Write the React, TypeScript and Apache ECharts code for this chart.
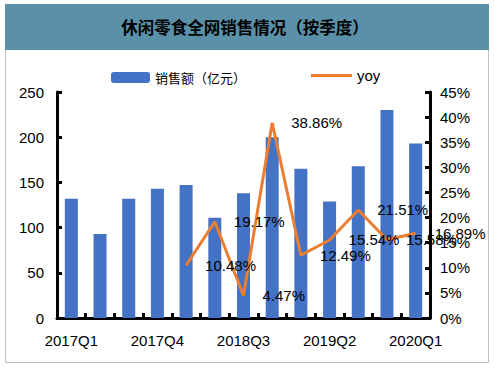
import React, { useEffect, useRef } from "react";
import * as echarts from "echarts";

const categories = [
  "2017Q1", "2017Q2", "2017Q3", "2017Q4",
  "2018Q1", "2018Q2", "2018Q3", "2018Q4",
  "2019Q1", "2019Q2", "2019Q3", "2019Q4",
  "2020Q1",
];
const sales = [132, 93, 132, 143, 147, 111, 138, 200, 165, 129, 168, 230, 193];
const yoy = [null, null, null, null, 10.48, 19.17, 4.47, 38.86, 12.49, 15.54, 21.51, 15.58, 16.89];
const leftTicks = { min: 0, max: 250, interval: 50 };
const rightTicks = { min: 0, max: 45, interval: 5 };
const titleText = "休闲零食全网销售情况（按季度）";
const barName = "销售额（亿元）";
const lineName = "yoy";

const FONT = "'Liberation Sans', Arial, 'Noto Sans CJK SC', sans-serif";

export default function App() {
  const ref = useRef<HTMLDivElement>(null);
  useEffect(() => {
    if (!ref.current) return;
    const chart = echarts.init(ref.current, null, { renderer: "svg" });
    const axisLine = { show: true, lineStyle: { color: "#000", width: 3 } };
    const axisTick = { show: true, inside: true, length: 5, lineStyle: { color: "#000", width: 3 } };
    chart.setOption({
      animation: false,
      backgroundColor: "#fff",
      textStyle: { fontFamily: FONT },
      graphic: [
        {
          type: "rect",
          shape: { x: 5.5, y: 4.5, width: 483, height: 358 },
          style: { fill: "none", stroke: "#BFBFBF", lineWidth: 1 },
          silent: true,
        },
        {
          type: "rect",
          shape: { x: 5, y: 4, width: 484, height: 46 },
          style: { fill: "#5B91A8" },
          silent: true,
        },
        {
          type: "text",
          x: 245,
          y: 27,
          style: {
            text: titleText,
            fill: "#000",
            font: "bold 16.5px 'Noto Sans CJK SC', sans-serif",
            align: "center",
            verticalAlign: "middle",
          },
          silent: true,
        },
      ],
      legend: [
        {
          data: [barName],
          left: 106,
          top: 66,
          itemWidth: 39,
          itemHeight: 11,
          itemGap: 5,
          textStyle: { fontSize: 13, color: "#000", fontFamily: "'Noto Sans CJK SC', sans-serif" },
        },
        {
          data: [{ name: lineName, icon: "rect" }],
          left: 306,
          top: 63,
          itemWidth: 41,
          itemHeight: 3,
          itemGap: 5,
          itemStyle: { color: "#ED7D31" },
          textStyle: { fontSize: 15, color: "#000", fontFamily: FONT, padding: [0, 0, 0, 0] },
        },
      ],
      grid: { left: 57, right: 64, top: 92, bottom: 50, containLabel: false },
      xAxis: {
        type: "category",
        data: categories,
        axisLine,
        axisTick: { ...axisTick, interval: 0 },
        axisLabel: { interval: 2, color: "#000", fontSize: 15, margin: 15, fontFamily: FONT },
      },
      yAxis: [
        {
          type: "value",
          ...leftTicks,
          axisLine,
          axisTick,
          splitLine: { show: false },
          axisLabel: { color: "#000", fontSize: 15, margin: 13, fontFamily: FONT },
        },
        {
          type: "value",
          ...rightTicks,
          position: "right",
          axisLine,
          axisTick,
          splitLine: { show: false },
          axisLabel: { color: "#000", fontSize: 15, margin: 10, formatter: "{value}%", fontFamily: FONT },
        },
      ],
      series: [
        {
          name: barName,
          type: "bar",
          data: sales,
          barWidth: 13,
          itemStyle: { color: "#4472C4" },
          yAxisIndex: 0,
        },
        {
          name: lineName,
          type: "line",
          data: yoy,
          yAxisIndex: 1,
          symbol: "circle",
          symbolSize: 0.01,
          showSymbol: true,
          connectNulls: false,
          lineStyle: { color: "#ED7D31", width: 3 },
          itemStyle: { color: "#ED7D31" },
          label: {
            show: true,
            position: "right",
            distance: 19,
            offset: [0, 2],
            formatter: "{c}%",
            color: "#000",
            fontSize: 15,
            fontFamily: FONT,
          },
          labelLayout: { hideOverlap: false },
        },
      ],
    });
    return () => chart.dispose();
  }, []);
  return (
    <div
      ref={ref}
      style={{ position: "absolute", left: 0, top: 0, width: 494, height: 368 }}
    />
  );
}
